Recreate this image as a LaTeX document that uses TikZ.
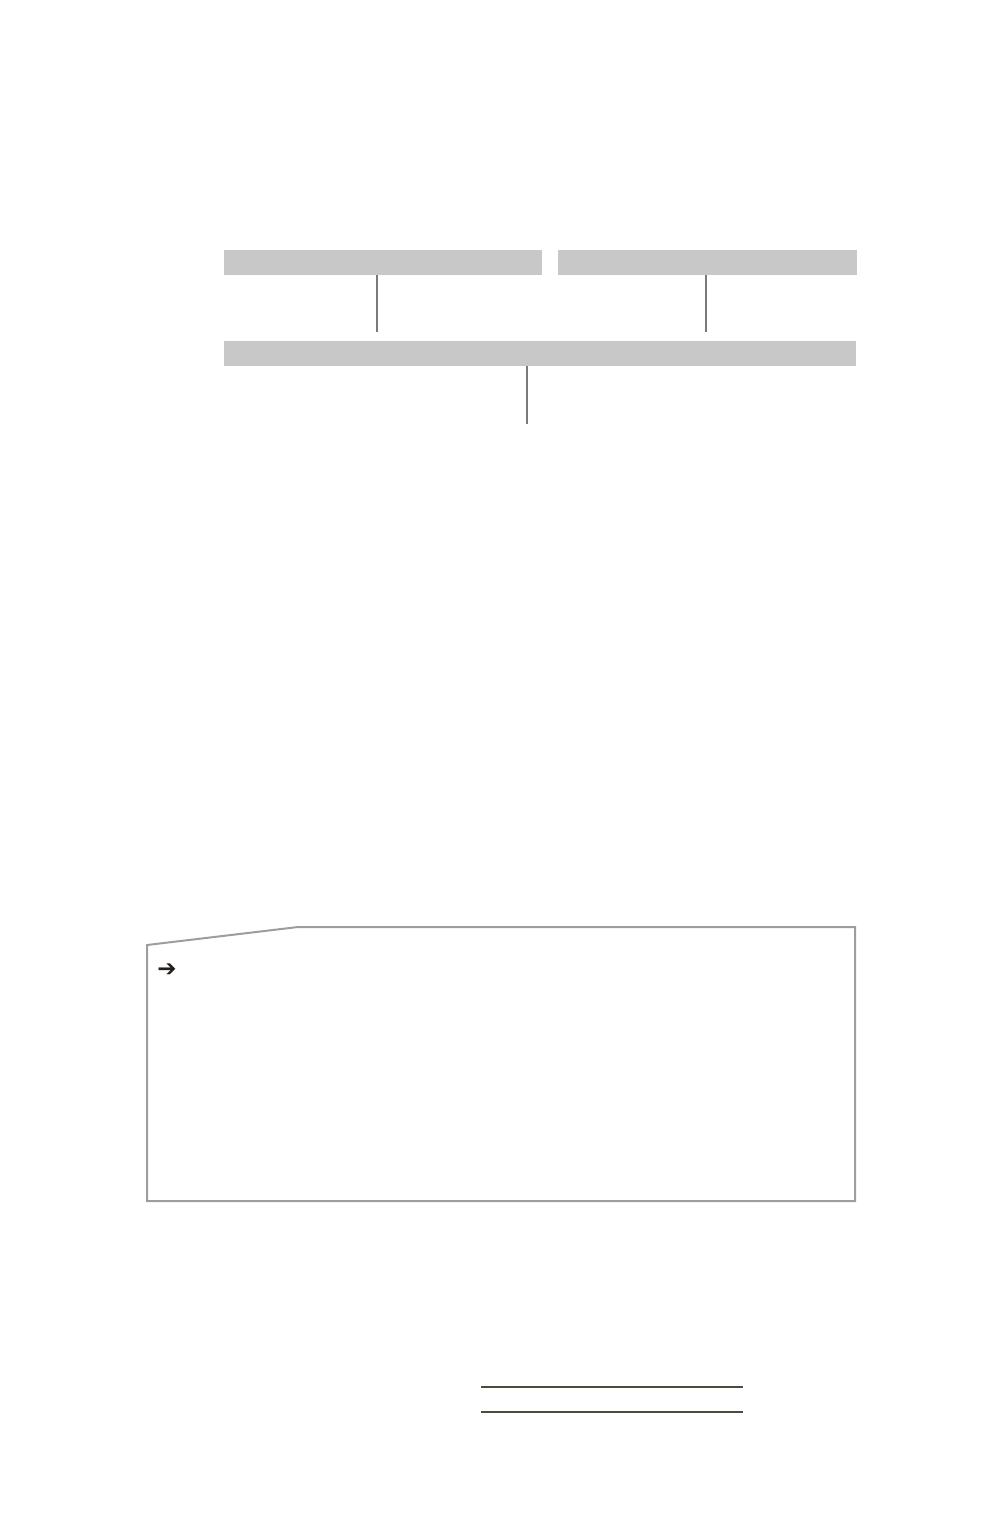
\documentclass[tikz,border=0pt]{standalone}
\usepackage{fontspec}
\newfontfamily\symfont{DejaVu Sans}
\definecolor{barfill}{HTML}{C8C8C8}
\definecolor{conn}{HTML}{7A7A76}
\definecolor{frame}{HTML}{9C9E9C}
\definecolor{rule}{HTML}{4E4A3E}
\definecolor{ink}{HTML}{231F1A}
\begin{document}
\begin{tikzpicture}[x=0.5pt,y=-0.5pt,
  bar/.style={rectangle,fill=barfill,draw=none,inner sep=0pt,minimum height=12.5pt},
  link/.style={draw=conn,line width=0.7pt},
  panel/.style={draw=frame,line width=1pt},
  rulestyle/.style={draw=rule,line width=0.7pt}]
\useasboundingbox (0,0) rectangle (1000,1528);
% bars
\node[bar,minimum width=159pt] (b1) at (383,262.5) {};
\node[bar,minimum width=149.5pt] (b2) at (707.5,262.5) {};
\node[bar,minimum width=316pt] (b3) at (540,353.5) {};
% connector free ends
\coordinate (e1) at (377,332);
\coordinate (e2) at (706,332);
\coordinate (e3) at (527,424);
\draw[link] (e1 |- b1.south) -- (e1);
\draw[link] (e2 |- b2.south) -- (e2);
\draw[link] (e3 |- b3.south) -- (e3);
% panel
\coordinate (p1) at (147,945);
\coordinate (p2) at (298,927);
\coordinate (p3) at (855,927);
\coordinate (p4) at (855,1201);
\coordinate (p5) at (147,1201);
\draw[panel] (p1) -- (p2) -- (p3) -- (p4) -- (p5) -- cycle;
\node[inner sep=0pt,text=ink,font=\symfont\bfseries\fontsize{11.5}{12}\selectfont] (arr) at (167,970) {➔};
% bottom rules
\coordinate (r1a) at (481,1387);
\coordinate (r1b) at (743,1387);
\coordinate (r2a) at (481,1412);
\coordinate (r2b) at (743,1412);
\draw[rulestyle] (r1a) -- (r1b);
\draw[rulestyle] (r2a) -- (r2b);
\end{tikzpicture}
\end{document}
